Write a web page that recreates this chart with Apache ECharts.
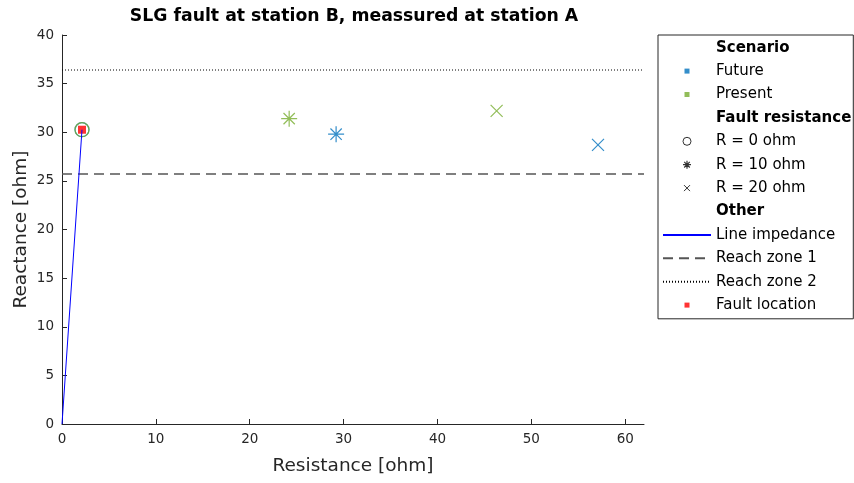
<!DOCTYPE html>
<html><head><meta charset="utf-8">
<script src="https://cdn.jsdelivr.net/npm/echarts@6/dist/echarts.min.js"></script>
<style>html,body{margin:0;padding:0;background:#fff}#c{width:854px;height:483px}</style>
</head><body><div id="c"></div>
<script>
// ---- data ----
const xTicks = [0, 10, 20, 30, 40, 50, 60];
const yTicks = [0, 5, 10, 15, 20, 25, 30, 35, 40];
const faultResistances = ['R = 0 ohm', 'R = 10 ohm', 'R = 20 ohm'];
const futureR = [2.13, 29.2, 57.1];
const futureX = [30.26, 29.8, 28.7];
const presentR = [2.13, 24.2, 46.3];
const presentX = [30.26, 31.4, 32.2];
const faultLocation = [2.13, 30.26];
const lineImpedanceR = [0, 2.13];
const lineImpedanceX = [0, 30.26];
const reachZone1 = 25.7;
const reachZone2 = 36.4;
const xMin = 0, xMax = 62, yMin = 0, yMax = 40;

// ---- styles ----
const FONT = 'DejaVu Sans';
const BLUE = '#0072BD', GREEN = '#77AC30';
const starPath = 'path://M0,-10L0,10M-10,0L10,0M-7.07,-7.07L7.07,7.07M-7.07,7.07L7.07,-7.07';
const xPath = 'path://M-10,-10L10,10M-10,10L10,-10';
const markerSymbols = ['circle', starPath, xPath];
const markerSizes = [14, 16, 12];

const legStar = 'path://M4,0L4,8M0,4L8,4M1.2,1.2L6.8,6.8M1.2,6.8L6.8,1.2';
const legX = 'path://M0,0L0,0M8,8L8,8M1,1L7,7M1,7L7,1';
const legSquare = 'path://M0,0L0,0M8,8L8,8M1.5,1.5h5v5h-5z';

function markerData(rs, xs, color) {
  return rs.map((r, i) => ({
    value: [r, xs[i]],
    symbol: markerSymbols[i],
    symbolSize: markerSizes[i],
    itemStyle: { color: 'transparent', borderColor: color, borderWidth: 1.2 }
  }));
}

const chart = echarts.init(document.getElementById('c'));
chart.setOption({
  animation: false,
  backgroundColor: '#fff',
  title: {
    text: 'SLG fault at station B, meassured at station A',
    left: 354, top: 8, textAlign: 'center', padding: 0,
    textStyle: { fontFamily: FONT, fontSize: 17.3, fontWeight: 'bold', color: '#000' }
  },
  grid: { left: 62, right: 210, top: 35, bottom: 59, containLabel: false },
  xAxis: {
    type: 'value', min: xMin, max: xMax, interval: 10,
    name: 'Resistance [ohm]', nameLocation: 'middle', nameGap: 33, nameMoveOverlap: false,
    nameTextStyle: { fontFamily: FONT, fontSize: 18.5, color: '#262626' },
    axisLine: { show: true, onZero: false, lineStyle: { color: '#262626', width: 1 } },
    axisTick: { show: true, inside: true, length: 5, customValues: xTicks, lineStyle: { color: '#262626' } },
    axisLabel: { customValues: xTicks, margin: 8, fontFamily: FONT, fontSize: 13.5, color: '#262626' },
    splitLine: { show: false }
  },
  yAxis: {
    type: 'value', min: yMin, max: yMax, interval: 5,
    name: 'Reactance [ohm]', nameLocation: 'middle', nameGap: 31, nameMoveOverlap: false,
    nameTextStyle: { fontFamily: FONT, fontSize: 18.5, color: '#262626' },
    axisLine: { show: true, onZero: false, lineStyle: { color: '#262626', width: 1 } },
    axisTick: { show: true, inside: true, length: 5, customValues: yTicks, lineStyle: { color: '#262626' } },
    axisLabel: { customValues: yTicks, margin: 8, fontFamily: FONT, fontSize: 13.5, color: '#262626' },
    splitLine: { show: false }
  },
  legend: {
    orient: 'vertical', left: 658, top: 35,
    padding: [1, 2, 2, 4],
    itemWidth: 48, itemHeight: 8, itemGap: 0,
    borderColor: '#262626', borderWidth: 1, backgroundColor: '#fff',
    symbolKeepAspect: true,
    selectedMode: false,
    textStyle: { fontFamily: FONT, fontSize: 15, color: '#000', lineHeight: 23.4 },
    data: [
      { name: 'Scenario', icon: 'none', textStyle: { fontWeight: 'bold' } },
      { name: 'Future', icon: legSquare, itemStyle: { color: BLUE, borderWidth: 0 } },
      { name: 'Present', icon: legSquare, itemStyle: { color: GREEN, borderWidth: 0 } },
      { name: 'Fault resistance', icon: 'none', textStyle: { fontWeight: 'bold' } },
      { name: faultResistances[0], icon: 'circle', itemStyle: { color: 'transparent', borderColor: '#000', borderWidth: 1 } },
      { name: faultResistances[1], icon: legStar, itemStyle: { color: 'transparent', borderColor: '#000', borderWidth: 1.2 } },
      { name: faultResistances[2], icon: legX, itemStyle: { color: 'transparent', borderColor: '#000', borderWidth: 1 } },
      { name: 'Other', icon: 'none', textStyle: { fontWeight: 'bold' } },
      { name: 'Line impedance', itemStyle: { opacity: 0 } },
      { name: 'Reach zone 1', itemStyle: { opacity: 0 } },
      { name: 'Reach zone 2', itemStyle: { opacity: 0 } },
      { name: 'Fault location', icon: legSquare, itemStyle: { color: '#ff0000', borderWidth: 0 } }
    ]
  },
  series: [
    { name: 'Scenario', type: 'scatter', data: [] },
    { name: 'Fault resistance', type: 'scatter', data: [] },
    { name: 'Other', type: 'scatter', data: [] },
    { name: faultResistances[0], type: 'scatter', data: [] },
    { name: faultResistances[1], type: 'scatter', data: [] },
    { name: faultResistances[2], type: 'scatter', data: [] },
    {
      name: 'Reach zone 1', type: 'line', symbol: 'none', silent: true,
      data: [[xMin, reachZone1], [xMax, reachZone1]],
      lineStyle: { color: '#555', width: 1.5, type: [10, 6] }, itemStyle: { color: '#555' }
    },
    {
      name: 'Reach zone 2', type: 'line', symbol: 'none', silent: true,
      data: [[xMin, reachZone2], [xMax, reachZone2]],
      lineStyle: { color: '#000', width: 1, type: [1, 2] }, itemStyle: { color: '#000' }
    },
    {
      name: 'Line impedance', type: 'line', symbol: 'none', silent: true,
      data: lineImpedanceR.map((r, i) => [r, lineImpedanceX[i]]),
      lineStyle: { color: '#0000ff', width: 1 }, itemStyle: { color: '#0000ff' }
    },
    { name: 'Future', type: 'scatter', itemStyle: { color: BLUE }, data: markerData(futureR, futureX, BLUE) },
    { name: 'Present', type: 'scatter', itemStyle: { color: GREEN }, data: markerData(presentR, presentX, GREEN) },
    {
      name: 'Fault location', type: 'scatter', symbol: 'rect', symbolSize: 8,
      itemStyle: { color: '#ff0000' }, data: [faultLocation]
    }
  ]
});
</script>
</body></html>
